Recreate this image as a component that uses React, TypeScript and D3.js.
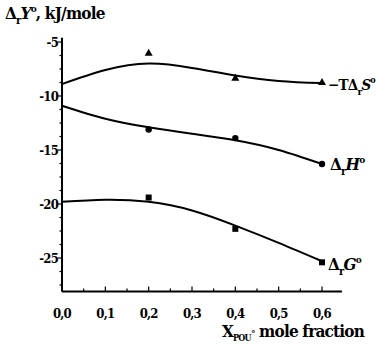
import { scaleLinear, line, curveNatural, range } from "d3";

const xTicks = [0, 0.1, 0.2, 0.3, 0.4, 0.5, 0.6];
const xTickLabels = ["0,0", "0,1", "0,2", "0,3", "0,4", "0,5", "0,6"];
const yTicks = [-5, -10, -15, -20, -25];

// measured points
const ptX = [0.2, 0.4, 0.6];
const tdsPts = [-6.0, -8.3, -8.7];
const dhPts = [-13.1, -13.9, -16.3];
const dgPts = [-19.4, -22.3, -25.4];

// fitted curves
const curveX = [0, 0.1, 0.2, 0.3, 0.4, 0.5, 0.6];
const tdsCurve = [-8.9, -7.6, -7.0, -7.4, -8.1, -8.6, -8.8];
const dhCurve = [-10.9, -12.1, -12.9, -13.5, -14.1, -15.0, -16.3];
const dgCurve = [-19.8, -19.6, -19.8, -20.6, -22.0, -23.6, -25.3];

const font = '"DejaVu Serif Condensed", "DejaVu Serif", serif';

export default function App() {
  const x = scaleLinear().domain([0, 0.6]).range([62, 322]);
  const y = scaleLinear().domain([-5, -25]).range([42, 258]);
  const xMax = 0.646;
  const yTop = -4.6;
  const yBottom = -28.1;

  const mk = (vals: number[]) =>
    line<number>()
      .x((_, i) => x(curveX[i]))
      .y((d) => y(d))
      .curve(curveNatural)(vals) || "";

  const minorX = range(0, 0.65, 0.05);
  const minorY = range(-5, -28.5, -1.25);

  return (
    <svg
      width={377}
      height={344}
      style={{ position: "absolute", left: 0, top: 0, background: "white", fontFamily: font, fontWeight: "bold" }}
    >
      {/* axes */}
      <line x1={x(0)} y1={y(yTop)} x2={x(0)} y2={y(yBottom)} stroke="black" strokeWidth={2} />
      <line x1={x(0)} y1={y(yBottom)} x2={x(xMax)} y2={y(yBottom)} stroke="black" strokeWidth={2} />
      {minorX.map((t, i) => (
        <line key={"mx" + i} x1={x(t)} x2={x(t)} y1={y(yBottom)} y2={y(yBottom) - (i % 2 === 0 ? 5 : 3)} stroke="black" strokeWidth={1.2} />
      ))}
      {minorY.map((t, i) => (
        <line key={"my" + i} x1={x(0)} x2={x(0) - (i % 4 === 0 ? 4 : 2.5)} y1={y(t)} y2={y(t)} stroke="black" strokeWidth={1.2} />
      ))}
      {xTicks.map((t, i) => (
        <text key={"xt" + i} x={x(t)} y={318} fontSize={13} textAnchor="middle" letterSpacing={-0.8}>
          {xTickLabels[i]}
        </text>
      ))}
      {yTicks.map((t) => (
        <text key={"yt" + t} x={x(0) - 4} y={y(t) + 5} fontSize={13} textAnchor="end" letterSpacing={-0.8}>
          {t}
        </text>
      ))}

      {/* curves */}
      {[tdsCurve, dhCurve, dgCurve].map((c, i) => (
        <path key={"c" + i} d={mk(c)} fill="none" stroke="black" strokeWidth={2} />
      ))}

      {/* markers */}
      {tdsPts.map((v, i) => {
        const cx = x(ptX[i]);
        const cy = y(v);
        return <path key={"tr" + i} d={`M${cx},${cy - 4}L${cx + 4},${cy + 3}L${cx - 4},${cy + 3}Z`} fill="black" />;
      })}
      {dhPts.map((v, i) => (
        <circle key={"ci" + i} cx={x(ptX[i])} cy={y(v)} r={3.2} fill="black" />
      ))}
      {dgPts.map((v, i) => (
        <rect key={"sq" + i} x={x(ptX[i]) - 3} y={y(v) - 3} width={6} height={6} fill="black" />
      ))}

      {/* series labels */}
      <text x={328} y={90} fontSize={15} letterSpacing={-0.8}>
        −TΔ
        <tspan dy={5} fontSize={10}>r</tspan>
        <tspan dy={-5} fontStyle="italic">S</tspan>
        <tspan dy={-7} fontSize={9}>o</tspan>
      </text>
      <text x={330} y={170} fontSize={17} letterSpacing={-0.8}>
        Δ
        <tspan dy={5} fontSize={11}>r</tspan>
        <tspan dy={-5} fontStyle="italic">H</tspan>
        <tspan dy={-7} fontSize={10}>o</tspan>
      </text>
      <text x={328} y={270} fontSize={17} letterSpacing={-0.8}>
        Δ
        <tspan dy={5} fontSize={11}>r</tspan>
        <tspan dy={-5} fontStyle="italic">G</tspan>
        <tspan dy={-7} fontSize={10}>o</tspan>
      </text>

      {/* axis titles */}
      <text x={5} y={19} fontSize={17} letterSpacing={-0.8}>
        Δ
        <tspan dy={5} fontSize={11}>r</tspan>
        <tspan dy={-5} fontStyle="italic">Y</tspan>
        <tspan dy={-7} fontSize={10}>o</tspan>
        <tspan dy={7}>, kJ/mole</tspan>
      </text>
      <text x={222} y={337} fontSize={17} letterSpacing={-0.8}>
        X
        <tspan dy={4} fontSize={9}>POU</tspan>
        <tspan dy={-4} fontSize={10}>°</tspan>
        <tspan> mole fraction</tspan>
      </text>
    </svg>
  );
}
